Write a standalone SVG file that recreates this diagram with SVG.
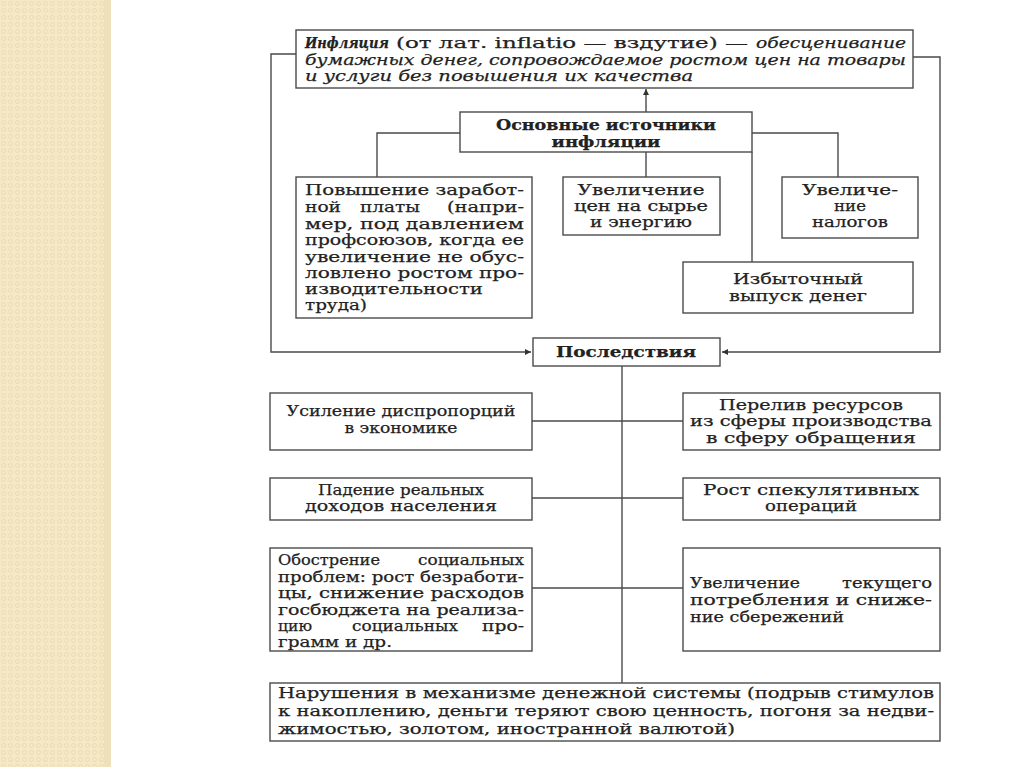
<svg xmlns="http://www.w3.org/2000/svg" width="1024" height="767" viewBox="0 0 1024 767">
<defs>
<pattern id="tex" width="7" height="7" patternUnits="userSpaceOnUse">
<rect width="7" height="7" fill="#f5e8c6"/>
<circle cx="3.5" cy="3.5" r="2" fill="none" stroke="#ebdbb0" stroke-width="1"/>
</pattern>
<marker id="ar" viewBox="0 0 10 10" refX="10" refY="5" markerWidth="8" markerHeight="6" markerUnits="userSpaceOnUse" orient="auto">
<path d="M0,0 L10,5 L0,10 Z" fill="#333"/>
</marker>
<style>
.box{fill:#fff;stroke:#4a4a4a;stroke-width:1.4}
.ln{fill:none;stroke:#4a4a4a;stroke-width:1.4}
.t{font-family:"DejaVu Serif","Liberation Serif",serif;font-size:15.5px;fill:#222;stroke:#222;stroke-width:0.25}
.c{text-anchor:middle}
.e{text-anchor:end}
.b{font-weight:bold}
.i{font-style:italic}
</style>
</defs>
<rect width="1024" height="767" fill="#fff"/>
<rect x="0" y="0" width="104" height="767" fill="url(#tex)"/>
<rect x="104" y="0" width="7" height="767" fill="#ede0bb"/>

<g id="connectors">
<polyline class="ln" points="296,54 271,54 271,352 531,352" marker-end="url(#ar)"/>
<polyline class="ln" points="913,57 940,57 940,352 722,352" marker-end="url(#ar)"/>
<line class="ln" x1="646" y1="112" x2="646" y2="89" marker-end="url(#ar)"/>
<polyline class="ln" points="460,133 377,133 377,177"/>
<polyline class="ln" points="752,133 838,133 838,177"/>
<line class="ln" x1="646" y1="152" x2="646" y2="177"/>
<line class="ln" x1="752" y1="152" x2="752" y2="262"/>
<line class="ln" x1="622" y1="366" x2="622" y2="683"/>
<line class="ln" x1="532" y1="421" x2="683" y2="421"/>
<line class="ln" x1="532" y1="498" x2="683" y2="498"/>
<line class="ln" x1="532" y1="588" x2="683" y2="588"/>
</g>

<g id="inflation">
<rect class="box" x="296" y="30" width="617" height="58"/>
<text class="t b i" x="305" y="48" textLength="84" lengthAdjust="spacingAndGlyphs">Инфляция</text>
<text class="t" x="396" y="48" textLength="352" lengthAdjust="spacingAndGlyphs">(от лат. inflatio — вздутие) —</text>
<text class="t i" x="756" y="48" textLength="150" lengthAdjust="spacingAndGlyphs">обесценивание</text>
<text class="t i" x="305" y="65" textLength="601" lengthAdjust="spacingAndGlyphs">бумажных денег, сопровождаемое ростом цен на товары</text>
<text class="t i" x="305" y="81" textLength="388" lengthAdjust="spacingAndGlyphs">и услуги без повышения их качества</text>
</g>

<g id="sources">
<rect class="box" x="460" y="112" width="292" height="40"/>
<text class="t b c" x="606" y="130" textLength="220" lengthAdjust="spacingAndGlyphs">Основные источники</text>
<text class="t b c" x="606" y="147" textLength="109" lengthAdjust="spacingAndGlyphs">инфляции</text>
</g>

<g id="wages">
<rect class="box" x="296" y="177" width="236" height="141"/>
<text class="t" x="305" y="195" textLength="219" lengthAdjust="spacingAndGlyphs">Повышение заработ-</text>
<text class="t" x="305" y="212" textLength="36" lengthAdjust="spacingAndGlyphs">ной</text>
<text class="t" x="360" y="212" textLength="60" lengthAdjust="spacingAndGlyphs">платы</text>
<text class="t e" x="524" y="212" textLength="77" lengthAdjust="spacingAndGlyphs">(напри-</text>
<text class="t" x="305" y="229" textLength="219" lengthAdjust="spacingAndGlyphs">мер, под давлением</text>
<text class="t" x="305" y="245" textLength="219" lengthAdjust="spacingAndGlyphs">профсоюзов, когда ее</text>
<text class="t" x="305" y="262" textLength="219" lengthAdjust="spacingAndGlyphs">увеличение не обус-</text>
<text class="t" x="305" y="278" textLength="219" lengthAdjust="spacingAndGlyphs">ловлено ростом про-</text>
<text class="t" x="305" y="294" textLength="178" lengthAdjust="spacingAndGlyphs">изводительности</text>
<text class="t" x="305" y="310" textLength="62" lengthAdjust="spacingAndGlyphs">труда)</text>
</g>

<g id="prices">
<rect class="box" x="563" y="177" width="157" height="58"/>
<text class="t c" x="641" y="195" textLength="127" lengthAdjust="spacingAndGlyphs">Увеличение</text>
<text class="t c" x="641" y="211" textLength="134" lengthAdjust="spacingAndGlyphs">цен на сырье</text>
<text class="t c" x="641" y="227" textLength="102" lengthAdjust="spacingAndGlyphs">и энергию</text>
</g>

<g id="taxes">
<rect class="box" x="782" y="177" width="136" height="61"/>
<text class="t c" x="850" y="195" textLength="96" lengthAdjust="spacingAndGlyphs">Увеличе-</text>
<text class="t c" x="850" y="211" textLength="32" lengthAdjust="spacingAndGlyphs">ние</text>
<text class="t c" x="850" y="227" textLength="76" lengthAdjust="spacingAndGlyphs">налогов</text>
</g>

<g id="money">
<rect class="box" x="683" y="262" width="230" height="51"/>
<text class="t c" x="798" y="284" textLength="130" lengthAdjust="spacingAndGlyphs">Избыточный</text>
<text class="t c" x="798" y="301" textLength="138" lengthAdjust="spacingAndGlyphs">выпуск денег</text>
</g>

<g id="consequences">
<rect class="box" x="533" y="338" width="187" height="28"/>
<text class="t b c" x="626" y="357" textLength="140" lengthAdjust="spacingAndGlyphs">Последствия</text>
</g>

<g id="disproportion">
<rect class="box" x="270" y="393" width="262" height="57"/>
<text class="t c" x="401" y="416" textLength="229" lengthAdjust="spacingAndGlyphs">Усиление диспропорций</text>
<text class="t c" x="401" y="433" textLength="113" lengthAdjust="spacingAndGlyphs">в экономике</text>
</g>

<g id="flow">
<rect class="box" x="683" y="393" width="257" height="57"/>
<text class="t c" x="811" y="410" textLength="184" lengthAdjust="spacingAndGlyphs">Перелив ресурсов</text>
<text class="t c" x="811" y="426" textLength="242" lengthAdjust="spacingAndGlyphs">из сферы производства</text>
<text class="t c" x="811" y="443" textLength="210" lengthAdjust="spacingAndGlyphs">в сферу обращения</text>
</g>

<g id="income">
<rect class="box" x="270" y="478" width="262" height="42"/>
<text class="t c" x="401" y="495" textLength="166" lengthAdjust="spacingAndGlyphs">Падение реальных</text>
<text class="t c" x="401" y="511" textLength="192" lengthAdjust="spacingAndGlyphs">доходов населения</text>
</g>

<g id="speculation">
<rect class="box" x="683" y="478" width="257" height="42"/>
<text class="t c" x="811" y="495" textLength="216" lengthAdjust="spacingAndGlyphs">Рост спекулятивных</text>
<text class="t c" x="811" y="511" textLength="92" lengthAdjust="spacingAndGlyphs">операций</text>
</g>

<g id="social">
<rect class="box" x="270" y="548" width="262" height="103"/>
<text class="t" x="278" y="565" textLength="102" lengthAdjust="spacingAndGlyphs">Обострение</text>
<text class="t e" x="524" y="565" textLength="106" lengthAdjust="spacingAndGlyphs">социальных</text>
<text class="t" x="278" y="582" textLength="246" lengthAdjust="spacingAndGlyphs">проблем: рост безработи-</text>
<text class="t" x="278" y="598" textLength="246" lengthAdjust="spacingAndGlyphs">цы, снижение расходов</text>
<text class="t" x="278" y="615" textLength="246" lengthAdjust="spacingAndGlyphs">госбюджета на реализа-</text>
<text class="t" x="278" y="631" textLength="34" lengthAdjust="spacingAndGlyphs">цию</text>
<text class="t" x="352" y="631" textLength="106" lengthAdjust="spacingAndGlyphs">социальных</text>
<text class="t e" x="524" y="631" textLength="42" lengthAdjust="spacingAndGlyphs">про-</text>
<text class="t" x="278" y="647" textLength="114" lengthAdjust="spacingAndGlyphs">грамм и др.</text>
</g>

<g id="consumption">
<rect class="box" x="683" y="548" width="257" height="103"/>
<text class="t" x="690" y="588" textLength="110" lengthAdjust="spacingAndGlyphs">Увеличение</text>
<text class="t e" x="932" y="588" textLength="90" lengthAdjust="spacingAndGlyphs">текущего</text>
<text class="t" x="690" y="605" textLength="242" lengthAdjust="spacingAndGlyphs">потребления и сниже-</text>
<text class="t" x="690" y="622" textLength="154" lengthAdjust="spacingAndGlyphs">ние сбережений</text>
</g>

<g id="monetary">
<rect class="box" x="270" y="683" width="670" height="58"/>
<text class="t" x="278" y="698" textLength="656" lengthAdjust="spacingAndGlyphs">Нарушения в механизме денежной системы (подрыв стимулов</text>
<text class="t" x="278" y="716" textLength="656" lengthAdjust="spacingAndGlyphs">к накоплению, деньги теряют свою ценность, погоня за недви-</text>
<text class="t" x="278" y="734" textLength="457" lengthAdjust="spacingAndGlyphs">жимостью, золотом, иностранной валютой)</text>
</g>
</svg>
